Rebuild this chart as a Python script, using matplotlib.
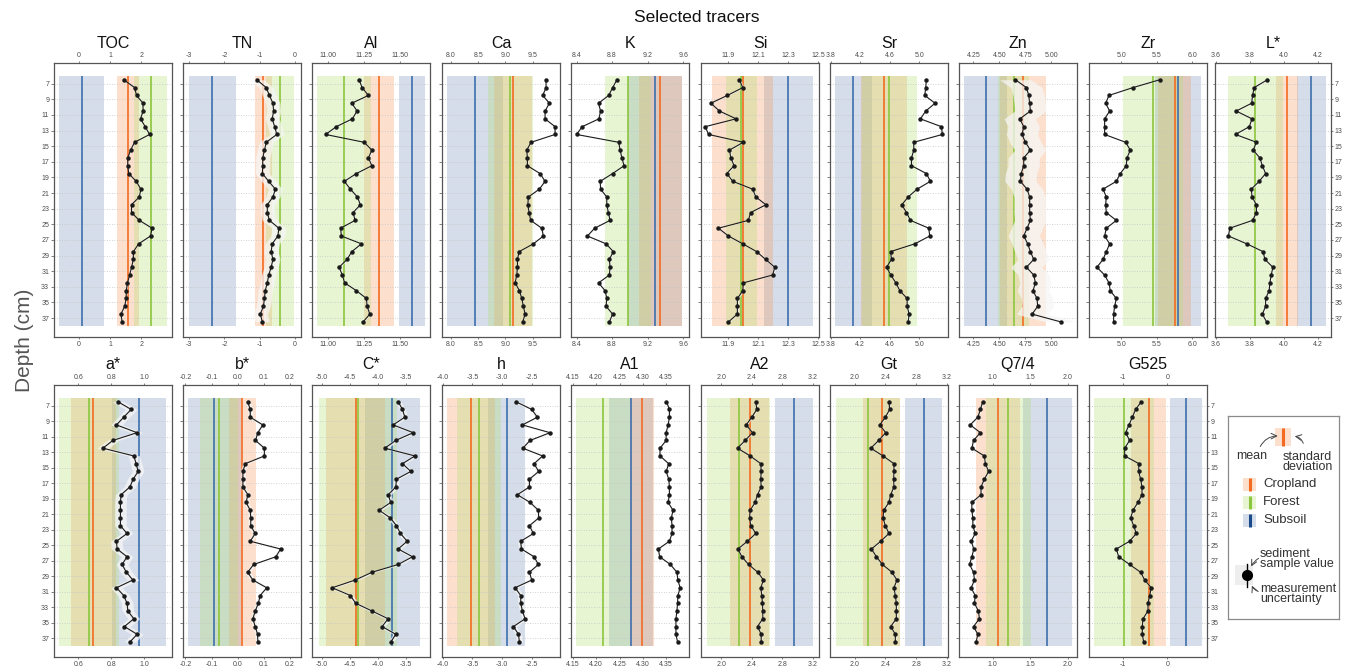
import matplotlib
matplotlib.use("Agg")
import matplotlib.pyplot as plt
from matplotlib.patches import Rectangle

plt.rcParams['font.family'] = ['Liberation Sans', 'DejaVu Sans']

# ---------------- data ----------------
depth = [6.5, 7.5, 8.5, 9.5, 10.5, 11.5, 12.5, 13.5, 14.5, 15.5, 16.5, 17.5, 18.5, 19.5, 20.5, 21.5,
         22.5, 23.5, 24.5, 25.5, 26.5, 27.5, 28.5, 29.5, 30.5, 31.5, 32.5, 33.5, 34.5, 35.5, 36.5, 37.5]
depth_ticks = [7, 9, 11, 13, 15, 17, 19, 21, 23, 25, 27, 29, 31, 33, 35, 37]

tracers_top = ["TOC", "TN", "Al", "Ca", "K", "Si", "Sr", "Zn", "Zr", "L*"]
tracers_bottom = ["a*", "b*", "C*", "h", "A1", "A2", "Gt", "Q7/4", "G525"]

toc = [1.44, 1.79, 1.85, 2.06, 2.06, 1.98, 2.13, 2.27, 1.79, 1.66, 1.57, 1.57, 1.60, 1.84, 1.99, 1.94,
       1.69, 1.69, 1.94, 2.35, 2.30, 1.92, 1.75, 1.75, 1.69, 1.63, 1.56, 1.52, 1.52, 1.47, 1.35, 1.39]
tn = [-1.08, -0.81, -0.72, -0.62, -0.60, -0.64, -0.57, -0.51, -0.81, -0.86, -0.91, -0.91, -0.92, -0.74, -0.55, -0.62,
      -0.78, -0.78, -0.72, -0.45, -0.48, -0.64, -0.67, -0.62, -0.67, -0.74, -0.78, -0.84, -0.86, -0.89, -0.98, -0.92]
al = [11.215, 11.236, 11.28, 11.164, 11.201, 11.168, 11.056, 10.981, 11.25, 11.304, 11.28, 11.304, 11.196, 11.112,
      11.154, 11.203, 11.224, 11.173, 11.187, 11.086, 11.091, 11.231, 11.164, 11.131, 11.075, 11.098, 11.114, 11.196,
      11.266, 11.271, 11.29, 11.243]
ca = [9.744, 9.744, 9.683, 9.805, 9.726, 9.726, 9.909, 9.909, 9.47, 9.39, 9.402, 9.402, 9.634, 9.726, 9.622, 9.42,
      9.41, 9.433, 9.463, 9.665, 9.695, 9.512, 9.25, 9.22, 9.22, 9.207, 9.177, 9.256, 9.299, 9.329, 9.36, 9.317]
k = [8.854, 8.806, 8.762, 8.647, 8.67, 8.651, 8.463, 8.4, 8.873, 8.891, 8.91, 8.935, 8.806, 8.666, 8.67, 8.74,
     8.74, 8.758, 8.777, 8.603, 8.522, 8.732, 8.814, 8.769, 8.777, 8.769, 8.647, 8.721, 8.74, 8.732, 8.806, 8.769]
si = [11.973, 11.996, 11.893, 11.782, 11.84, 11.951, 11.744, 11.767, 12.0, 11.907, 11.916, 11.938, 11.889, 11.929,
      12.062, 12.084, 12.151, 12.049, 12.033, 11.833, 11.9, 11.996, 12.089, 12.149, 12.211, 12.196, 12.0, 11.996,
      11.96, 11.96, 11.96, 11.9]
sr = [5.097, 5.088, 5.075, 5.214, 5.088, 5.016, 5.30, 5.314, 4.926, 4.926, 4.895, 4.895, 5.097, 5.151, 4.971, 4.85,
      4.764, 4.827, 4.881, 5.129, 5.142, 4.94, 4.611, 4.624, 4.557, 4.615, 4.683, 4.737, 4.836, 4.836, 4.863, 4.85]
zn = [4.654, 4.76, 4.782, 4.791, 4.798, 4.696, 4.734, 4.718, 4.75, 4.798, 4.734, 4.734, 4.709, 4.702, 4.766, 4.791,
      4.791, 4.791, 4.798, 4.766, 4.734, 4.772, 4.798, 4.83, 4.76, 4.83, 4.846, 4.823, 4.861, 4.868, 4.814, 5.091]
zr = [5.54, 5.164, 4.826, 4.779, 4.836, 4.765, 4.765, 4.765, 5.061, 5.127, 5.08, 5.07, 4.986, 4.93, 4.742, 4.789,
      4.779, 4.789, 4.93, 4.789, 4.765, 4.836, 4.789, 4.742, 4.657, 4.765, 4.826, 4.845, 4.93, 4.906, 4.892, 4.892]
lstar = [3.902, 3.825, 3.815, 3.81, 3.719, 3.812, 3.796, 3.715, 3.838, 3.819, 3.858, 3.873, 3.892, 3.854, 3.808, 3.812,
         3.838, 3.838, 3.815, 3.681, 3.673, 3.781, 3.877, 3.888, 3.935, 3.925, 3.917, 3.913, 3.892, 3.892, 3.873, 3.898]
astar = [0.839, 0.92, 0.875, 0.831, 0.956, 0.809, 0.749, 0.936, 0.95, 0.962, 0.932, 0.912, 0.859, 0.855, 0.855, 0.855,
         0.855, 0.895, 0.831, 0.835, 0.895, 0.865, 0.891, 0.93, 0.831, 0.875, 0.895, 0.9, 0.936, 0.879, 0.956, 0.912]
bstar = [0.038, 0.048, 0.048, 0.096, 0.077, 0.068, 0.102, 0.102, 0.029, 0.02, 0.02, 0.02, 0.039, 0.032, 0.048, 0.05,
         0.05, 0.067, 0.048, 0.164, 0.146, 0.061, 0.038, 0.058, 0.111, 0.086, 0.079, 0.067, 0.058, 0.067, 0.076, 0.077]
cstar = [-3.637, -3.56, -3.518, -3.726, -3.369, -3.679, -3.875, -3.339, -3.56, -3.411, -3.667, -3.679, -3.815, -3.768,
         -3.976, -3.774, -3.667, -3.595, -3.476, -3.637, -3.381, -3.637, -4.101, -4.399, -4.81, -4.488, -4.393, -4.101,
         -3.815, -3.923, -3.679, -3.768]
hue = [-2.769, -2.5, -2.405, -2.657, -2.192, -2.528, -2.651, -2.316, -2.461, -2.383, -2.539, -2.539, -2.741, -2.528,
       -2.388, -2.383, -2.539, -2.472, -2.685, -2.674, -2.461, -2.388, -2.539, -2.5, -2.78, -2.685, -2.685, -2.657,
       -2.612, -2.808, -2.724, -2.707]
a1 = [4.3507, 4.357, 4.357, 4.3542, 4.35, 4.35, 4.3368, 4.3368, 4.3556, 4.35, 4.3556, 4.357, 4.357, 4.3542, 4.3647,
      4.3612, 4.3626, 4.3626, 4.357, 4.3333, 4.3361, 4.3591, 4.3731, 4.3752, 4.38, 4.3752, 4.3745, 4.3731, 4.371,
      4.371, 4.371, 4.3745]
a2 = [2.452, 2.465, 2.4, 2.326, 2.409, 2.313, 2.213, 2.378, 2.517, 2.522, 2.517, 2.522, 2.474, 2.443, 2.378, 2.37,
      2.387, 2.452, 2.343, 2.217, 2.27, 2.357, 2.478, 2.552, 2.517, 2.53, 2.539, 2.543, 2.543, 2.474, 2.522, 2.522]
gt = [2.446, 2.455, 2.399, 2.325, 2.403, 2.312, 2.208, 2.368, 2.511, 2.511, 2.507, 2.511, 2.468, 2.446, 2.377, 2.368,
      2.399, 2.446, 2.338, 2.217, 2.282, 2.36, 2.485, 2.55, 2.511, 2.529, 2.542, 2.542, 2.542, 2.468, 2.529, 2.529]
q74 = [0.868, 0.838, 0.803, 0.702, 0.838, 0.746, 0.724, 0.89, 0.904, 0.947, 0.89, 0.846, 0.846, 0.724, 0.724, 0.737,
       0.737, 0.768, 0.715, 0.75, 0.724, 0.693, 0.746, 0.759, 0.715, 0.768, 0.759, 0.811, 0.825, 0.746, 0.803, 0.781]
g525 = [-0.586, -0.714, -0.789, -0.865, -0.94, -0.85, -0.962, -0.962, -0.639, -0.647, -0.602, -0.571, -0.571, -0.662,
        -0.774, -0.827, -0.759, -0.699, -0.85, -1.15, -1.098, -0.85, -0.602, -0.511, -0.361, -0.398, -0.436, -0.436,
        -0.549, -0.564, -0.564, -0.534]

# source statistics: (mean, standard deviation)
cropland = {"TOC": (1.58, 0.35), "TN": (-0.89, 0.25), "Al": (11.353, 0.107), "Ca": (9.13, 0.35),
            "K": (9.342, 0.244), "Si": (11.996, 0.204), "Sr": (4.52, 0.31), "Zn": (4.728, 0.217),
            "Zr": (5.751, 0.23), "L*": (4.017, 0.063), "a*": (0.69, 0.136), "b*": (0.018, 0.052),
            "C*": (-4.393, 0.53), "h": (-3.524, 0.40), "A1": (4.298, 0.025), "A2": (2.37, 0.26),
            "Gt": (2.351, 0.243), "Q7/4": (1.066, 0.293), "G525": (-0.414, 0.395)}
forest = {"TOC": (2.30, 0.52), "TN": (-0.42, 0.40), "Al": (11.108, 0.19), "Ca": (9.09, 0.41),
          "K": (8.98, 0.258), "Si": (11.987, 0.104), "Sr": (4.593, 0.37), "Zn": (4.639, 0.15),
          "Zr": (5.446, 0.427), "L*": (3.831, 0.163), "a*": (0.664, 0.181), "b*": (-0.07, 0.073),
          "C*": (-4.345, 0.693), "h": (-3.384, 0.37), "A1": (4.2147, 0.0586), "A2": (2.226, 0.417),
          "Gt": (2.173, 0.422), "Q7/4": (1.21, 0.295), "G525": (-0.977, 0.677)}
subsoil = {"TOC": (0.09, 0.73), "TN": (-2.34, 0.68), "Al": (11.584, 0.091), "Ca": (8.44, 0.51),
           "K": (9.286, 0.306), "Si": (12.302, 0.164), "Sr": (4.106, 0.248), "Zn": (4.371, 0.207),
           "Zr": (5.803, 0.324), "L*": (4.162, 0.084), "a*": (0.968, 0.164), "b*": (-0.089, 0.101),
           "C*": (-3.744, 0.49), "h": (-2.92, 0.308), "A1": (4.274, 0.047), "A2": (2.952, 0.254),
           "Gt": (2.897, 0.24), "Q7/4": (1.724, 0.325), "G525": (0.414, 0.361)}
# measurement uncertainty (half-width)
uncertainty = {"TOC": 0.02, "TN": 0.2, "Al": 0.006, "Ca": 0.012, "K": 0.012, "Si": 0.008, "Sr": 0.012,
               "Zn": 0.15, "Zr": 0.012, "L*": 0.008, "a*": 0.035, "b*": 0.01, "C*": 0.05, "h": 0.05,
               "A1": 0.002, "A2": 0.012, "Gt": 0.012, "Q7/4": 0.015, "G525": 0.02}
values = {"TOC": toc, "TN": tn, "Al": al, "Ca": ca, "K": k, "Si": si, "Sr": sr, "Zn": zn, "Zr": zr,
          "L*": lstar, "a*": astar, "b*": bstar, "C*": cstar, "h": hue, "A1": a1, "A2": a2, "Gt": gt,
          "Q7/4": q74, "G525": g525}
xticks = {"TOC": ["0", "1", "2"], "TN": ["-3", "-2", "-1", "0"], "Al": ["11.00", "11.25", "11.50"],
          "Ca": ["8.0", "8.5", "9.0", "9.5"], "K": ["8.4", "8.8", "9.2", "9.6"],
          "Si": ["11.9", "12.1", "12.3", "12.5"], "Sr": ["3.8", "4.2", "4.6", "5.0"],
          "Zn": ["4.25", "4.50", "4.75", "5.00"], "Zr": ["5.0", "5.5", "6.0"],
          "L*": ["3.6", "3.8", "4.0", "4.2"], "a*": ["0.6", "0.8", "1.0"],
          "b*": ["-0.2", "-0.1", "0.0", "0.1", "0.2"], "C*": ["-5.0", "-4.5", "-4.0", "-3.5"],
          "h": ["-4.0", "-3.5", "-3.0", "-2.5"], "A1": ["4.15", "4.20", "4.25", "4.30", "4.35"],
          "A2": ["2.0", "2.4", "2.8", "3.2"], "Gt": ["2.0", "2.4", "2.8", "3.2"],
          "Q7/4": ["1.0", "1.5", "2.0"], "G525": ["-1", "0"]}

# ---------------- layout / style ----------------
xlims = {"TOC": (-0.80, 2.99), "TN": (-3.179, 0.179), "Al": (10.886, 11.71), "Ca": (7.835, 10.0),
         "K": (8.337, 9.666), "Si": (11.716, 12.507), "Sr": (3.79, 5.39), "Zn": (4.113, 5.245),
         "Zr": (4.545, 6.207), "L*": (3.594, 4.277), "a*": (0.453, 1.167), "b*": (-0.209, 0.242),
         "C*": (-5.17, -3.07), "h": (-4.011, -2.024), "A1": (4.146, 4.399), "A2": (1.735, 3.278),
         "Gt": (1.675, 3.217), "Q7/4": (0.553, 2.122), "G525": (-1.767, 0.895)}

W, H = 1346, 668
fig = plt.figure(figsize=(W / 100, H / 100), dpi=100)

band_fill = {"crop": "#f89858", "forest": "#b2de70", "sub": "#7391b9"}
line_col = {"crop": "#f26b21", "forest": "#8cc63e", "sub": "#3d6fad"}
tick_col = "#4d4d4d"
col_left = [54, 183, 312, 442, 571, 701, 830, 959, 1089, 1215]
pw = 118
pw_last = 116
rows = [(63, 337), (385, 657)]


def draw_panel(name, left_px, row, first, last):
    top, bot = rows[row]
    width = pw_last if (last and row == 0) else pw
    ax = fig.add_axes([left_px / W, 1 - bot / H, width / W, (bot - top) / H])
    x0, x1 = xlims[name]
    ax.set_xlim(x0, x1)
    ax.set_ylim(39.43, 4.35)
    # grid
    ax.hlines(depth_ticks, x0, x1, colors="#c4c4c4", linestyles=(0, (1, 2)), lw=0.6, zorder=1.5)
    # source bands
    for key, stats in (("sub", subsoil), ("crop", cropland), ("forest", forest)):
        m, s = stats[name]
        ax.fill_betweenx([6, 38], m - s, m + s, color=band_fill[key], alpha=0.3, lw=0, zorder=1)
    for key, stats in (("sub", subsoil), ("crop", cropland), ("forest", forest)):
        m, s = stats[name]
        ax.plot([m, m], [6, 38], color=line_col[key], lw=1.2, zorder=2, solid_capstyle="butt")
    v = values[name]
    u = uncertainty[name]
    ax.fill_betweenx(depth, [a - u for a in v], [a + u for a in v], color="#f6f6f6", alpha=0.75,
                     lw=0, zorder=3)
    ax.plot(v, depth, color="#1a1a1a", lw=0.8, marker="o", ms=2.2, zorder=4)
    # ticks
    labs = xticks[name]
    ax.set_xticks([float(t) for t in labs])
    ax.set_xticklabels(labs)
    ax.tick_params(axis="x", top=True, labeltop=True, bottom=True, labelbottom=True,
                   labelsize=5, colors=tick_col, length=1.5, width=0.5, pad=1.2)
    ax.set_yticks(depth_ticks)
    ax.set_yticklabels([str(t) for t in depth_ticks])
    ax.tick_params(axis="y", left=True, labelleft=first, labelsize=5, colors=tick_col,
                   length=2, width=0.5, pad=1.5)
    if last:
        ax.tick_params(axis="y", right=True, labelright=True, length=1.5, pad=1.0)
    for sp in ax.spines.values():
        sp.set_color("#555555")
        sp.set_linewidth(0.9)
    cx = (left_px + width / 2) / W
    ty = 1 - (top - 20) / H
    fig.text(cx, ty, name, ha="center", va="center", fontsize=11.5, color="#111111")
    return ax


for i, n in enumerate(tracers_top):
    draw_panel(n, col_left[i], 0, i == 0, i == len(tracers_top) - 1)
for i, n in enumerate(tracers_bottom):
    draw_panel(n, col_left[i], 1, i == 0, i == len(tracers_bottom) - 1)

fig.text(697 / W, 1 - 18 / H, "Selected tracers", ha="center", va="center", fontsize=12.5, color="#111111")
fig.text(25 / W, 1 - 340 / H, "Depth (cm)", ha="center", va="center", rotation=90, fontsize=15,
         color="#555555")

# ---------------- legend ----------------
lx0, lx1, ly0, ly1 = 1228, 1339, 416, 619
lg = fig.add_axes([lx0 / W, 1 - ly1 / H, (lx1 - lx0) / W, (ly1 - ly0) / H])
lg.set_xlim(lx0, lx1)
lg.set_ylim(ly1, ly0)
lg.set_xticks([])
lg.set_yticks([])
for sp in lg.spines.values():
    sp.set_color("#8a8a8a")
    sp.set_linewidth(0.9)

lg.add_patch(Rectangle((1275, 428), 15.7, 18, facecolor=band_fill["crop"], alpha=0.3, lw=0))
lg.plot([1282.7, 1282.7], [428, 446], color=line_col["crop"], lw=2.2, solid_capstyle="butt")
lg.text(1251.7, 456, "mean", ha="center", va="center", fontsize=9, color="#333333")
lg.text(1307.5, 462, "standard\ndeviation", ha="center", va="center", fontsize=9, color="#333333",
        linespacing=0.85)
lg.annotate("", xy=(1280.5, 436), xytext=(1259, 449),
            arrowprops=dict(arrowstyle="->", color="#444444", lw=0.7, connectionstyle="arc3,rad=-0.35"))
lg.annotate("", xy=(1292, 436), xytext=(1304, 446),
            arrowprops=dict(arrowstyle="->", color="#444444", lw=0.7, connectionstyle="arc3,rad=0.4"))

legend_rows = [("Cropland", "crop", 484.5, line_col["crop"]),
               ("Forest", "forest", 502.5, line_col["forest"]),
               ("Subsoil", "sub", 520.5, "#1a4a8a")]
for label, key, yc, lc in legend_rows:
    lg.add_patch(Rectangle((1243, yc - 6.5), 13, 13, facecolor=band_fill[key], alpha=0.3, lw=0))
    lg.plot([1249.5, 1249.5], [yc - 6.5, yc + 6.5], color=lc, lw=2.2, solid_capstyle="butt")
    lg.text(1263, yc, label, ha="left", va="center", fontsize=9.5, color="#333333")

lg.add_patch(Rectangle((1235, 565), 18.3, 20, facecolor="#eeeeee", lw=0))
lg.plot([1246.7, 1246.7], [564, 587], color="black", lw=1.0)
lg.plot([1246.7], [575], marker="o", ms=7, color="black")
lg.text(1260, 559, "sediment\nsample value", ha="left", va="center", fontsize=9, color="#333333",
        linespacing=0.85)
lg.text(1260, 594, "measurement\nuncertainty", ha="left", va="center", fontsize=9, color="#333333",
        linespacing=0.85)
lg.annotate("", xy=(1250, 569), xytext=(1261, 557),
            arrowprops=dict(arrowstyle="->", color="#444444", lw=0.7, connectionstyle="arc3,rad=0.2"))
lg.annotate("", xy=(1251, 583), xytext=(1261, 592),
            arrowprops=dict(arrowstyle="->", color="#444444", lw=0.7, connectionstyle="arc3,rad=-0.35"))

fig.savefig("out.png", dpi=100)
